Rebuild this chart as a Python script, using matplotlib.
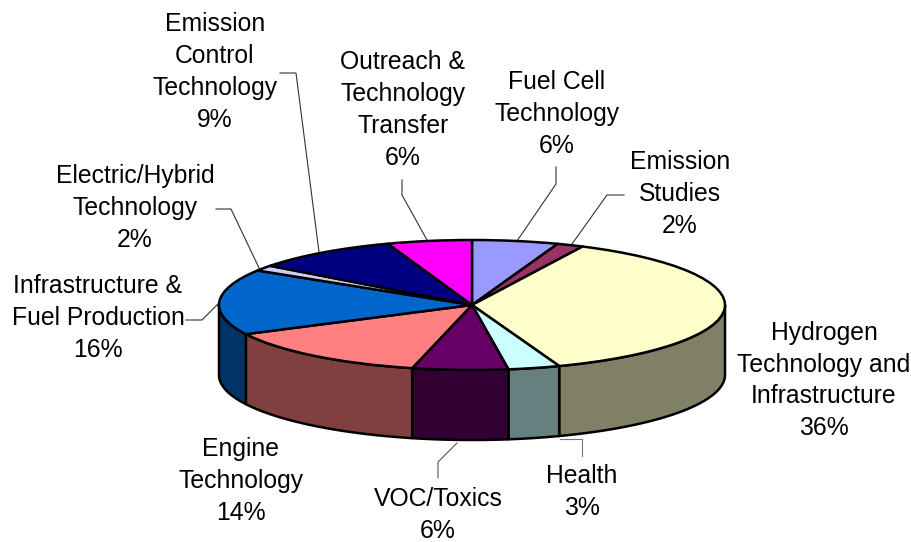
import numpy as np
import matplotlib
matplotlib.use("Agg")
import matplotlib.pyplot as plt
from matplotlib.transforms import Affine2D

plt.rcParams['font.family'] = ['Liberation Sans', 'DejaVu Sans']

# Data, clockwise from 12 o'clock
categories = ["Fuel Cell\nTechnology", "Emission\nStudies", "Hydrogen\nTechnology and\nInfrastructure",
              "Health", "VOC/Toxics", "Engine\nTechnology", "Infrastructure &\nFuel Production",
              "Electric/Hybrid\nTechnology", "Emission\nControl\nTechnology", "Outreach &\nTechnology\nTransfer"]
percent_labels = [6, 2, 36, 3, 6, 14, 16, 2, 9, 6]
# slice shares as drawn (the 3-D view distorts them slightly against the printed percentages)
drawn_shares = [5.5, 1.7, 37.2, 3.3, 6.1, 13.8, 16.3, 1.4, 9.3, 5.4]
top_colors = ["#9999FF", "#993366", "#FFFFCC", "#CCFFFF", "#660066",
              "#FF8080", "#0066CC", "#CCCCFF", "#000080", "#FF00FF"]
side_colors = ["#4D4D80", "#4D1A33", "#808066", "#668080", "#330033",
               "#804040", "#003366", "#666680", "#000040", "#800080"]
label_pos = [(557, 113), (680, 193), (824, 379.5), (582, 491), (438, 514),
             (241, 480), (98, 317), (135, 207), (215, 71), (403, 109)]
leaders = [[(556, 167), (556, 184), (517, 241)],
           [(624, 195), (607, 195), (572, 244)],
           [],
           [(582, 456), (582, 439), (560, 439)],
           [(438, 478), (438, 462), (457, 443)],
           [],
           [(186, 320), (202, 320), (219, 303)],
           [(216, 209), (231, 209), (260, 270)],
           [(280, 73), (296, 73), (319, 252)],
           [(402, 180), (402, 195), (427, 240)]]
leader_colors = ["#333333"] * 3 + ["#777777", "#555555"] + ["#333333"] * 5

cx, cy, rx, ry, depth = 472, 305, 253, 65, 70

fig = plt.figure(figsize=(9.12, 5.42), dpi=100)
ax = fig.add_axes([0, 0, 1, 1])
wedges, _ = ax.pie(drawn_shares, startangle=90, counterclock=False, colors=top_colors,
                   wedgeprops=dict(edgecolor="black", linewidth=1.8, joinstyle="round"))
ax.set_aspect("auto")
ax.set_xlim(0, 912)
ax.set_ylim(542, 0)
ax.axis("off")

squash = Affine2D().scale(rx, -ry).translate(cx, cy) + ax.transData
for w in wedges:
    w.set_transform(squash)
    w.set_zorder(3)

# Side walls of the slices on the front half of the disc
for w, sc in zip(wedges, side_colors):
    for off in (0, 360):
        lo, hi = max(w.theta1 + off, 180), min(w.theta2 + off, 360)
        if hi <= lo:
            continue
        t = np.radians(np.linspace(lo, hi, 80))
        x = cx + rx * np.cos(t)
        y = cy - ry * np.sin(t)
        ax.fill(np.r_[x, x[::-1]], np.r_[y, y[::-1] + depth], facecolor=sc,
                edgecolor="black", linewidth=1.8, joinstyle="round", zorder=2)

for pts, col in zip(leaders, leader_colors):
    if pts:
        xs, ys = zip(*pts)
        ax.plot(xs, ys, color=col, lw=0.8, zorder=1, solid_joinstyle="miter")

for cat, pct, (x, y) in zip(categories, percent_labels, label_pos):
    ax.text(x, y + 1, f"{cat}\n{pct}%", ha="center", va="center", ma="center",
            fontsize=17.8, linespacing=1.42, color="black", zorder=5)

fig.savefig("out.png", dpi=100)
